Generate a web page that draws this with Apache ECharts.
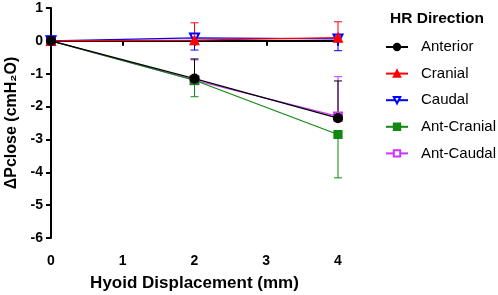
<!DOCTYPE html>
<html>
<head>
<meta charset="utf-8">
<script src="https://cdn.jsdelivr.net/npm/echarts@6/dist/echarts.min.js"></script>
<style>
  html, body { margin: 0; padding: 0; background: #fff; }
  #chart { width: 498px; height: 295px; }
</style>
</head>
<body>
<div id="chart"></div>
<script>
// data
const displacement = [0, 2, 4]
const anteriorMean = [0, -1.15, -2.35]
const anteriorSd = [0, 0.6, 1.13]
const cranialMean = [0, 0.02, 0.1]
const cranialSd = [0, 0.53, 0.48]
const caudalMean = [0, 0.09, 0.06]
const caudalSd = [0, 0.37, 0.36]
const antCranialMean = [0, -1.2, -2.85]
const antCranialSd = [0, 0.5, 1.32]
const antCaudalMean = [0, -1.2, -2.3]
const antCaudalSd = [0, 0.62, 1.21]
const yTicks = [-6, -5, -4, -3, -2, -1, 0, 1]
const xTicks = [0, 1, 2, 3, 4]

// dir: which side the error bar is drawn on (1 = up, -1 = down)
const groups = [
  { name: 'Anterior', mean: anteriorMean, sd: anteriorSd, dir: 1, color: '#000000', symbol: 'circle', size: 9 },
  { name: 'Cranial', mean: cranialMean, sd: cranialSd, dir: 1, color: '#ff0000', symbol: 'triangle', size: 9 },
  { name: 'Caudal', mean: caudalMean, sd: caudalSd, dir: -1, color: '#0000ff', symbol: 'emptyTriangle', size: 9, rotate: 180 },
  { name: 'Ant-Cranial', mean: antCranialMean, sd: antCranialSd, dir: -1, color: '#118811', symbol: 'rect', size: 8 },
  { name: 'Ant-Caudal', mean: antCaudalMean, sd: antCaudalSd, dir: 1, color: '#cc33ff', symbol: 'emptyRect', size: 8 },
]

const font = 'Arial, "Liberation Sans", sans-serif'

// one-sided error bar with cap
const errorBarRender = (color) => (params, api) => {
  const from = api.coord([api.value(0), api.value(1)])
  const to = api.coord([api.value(0), api.value(2)])
  const w = 4
  const style = { stroke: color, lineWidth: 1 }
  return {
    type: 'group',
    children: [
      { type: 'line', shape: { x1: from[0], y1: from[1], x2: to[0], y2: to[1] }, style },
      { type: 'line', shape: { x1: to[0] - w, y1: to[1], x2: to[0] + w, y2: to[1] }, style },
    ],
  }
}

const series = []
groups.forEach((g, idx) => {
  series.push({
    name: g.name + ' SD',
    type: 'custom',
    renderItem: errorBarRender(g.color),
    data: displacement.slice(1).map((x, i) => [x, g.mean[i + 1], g.mean[i + 1] + g.dir * g.sd[i + 1]]),
    z: 10 - idx,
    clip: false,
    silent: true,
  })
})
groups.forEach((g, idx) => {
  series.push({
    name: g.name,
    type: 'line',
    data: displacement.map((x, i) => [x, g.mean[i]]),
    symbol: g.symbol,
    symbolSize: g.size,
    symbolRotate: g.rotate || 0,
    showAllSymbol: true,
    clip: false,
    z: 20 - idx,
    color: g.color,
    lineStyle: { color: g.color, width: 1.2 },
    itemStyle: { color: g.color, borderColor: g.color, borderWidth: 1.2 },
    emphasis: { disabled: true },
    ...(idx === 0 && {
      markLine: {
        silent: true,
        symbol: 'none',
        label: { show: false },
        lineStyle: { color: '#000', width: 2, type: [2, 4] },
        data: [[{ coord: [0, 0] }, { coord: [4, 0] }]],
        z: 1,
      },
    }),
  })
})

const chart = echarts.init(document.getElementById('chart'))
chart.setOption({
  animation: false,
  backgroundColor: '#fff',
  title: {
    text: 'HR Direction',
    left: 390,
    top: 11,
    padding: 0,
    textStyle: { fontFamily: font, fontSize: 15.5, fontWeight: 'bold', color: '#000' },
  },
  legend: {
    data: groups.map((g) => g.name),
    orient: 'vertical',
    left: 385,
    top: 39,
    padding: 0,
    itemWidth: 22,
    itemHeight: 8,
    itemGap: 10.6,
    textStyle: { fontFamily: font, fontSize: 15, lineHeight: 16, color: '#000', padding: [0, 0, 0, 8], width: 90, overflow: 'none' },
  },
  grid: { left: 51, right: 160, top: 8, bottom: 57, containLabel: false, outerBoundsMode: 'none' },
  xAxis: {
    type: 'value',
    min: 0,
    max: 4,
    interval: 1,
    name: 'Hyoid Displacement (mm)',
    nameLocation: 'middle',
    nameGap: 37,
    nameTextStyle: { fontFamily: font, fontSize: 17, fontWeight: 'bold', color: '#000' },
    axisLine: { lineStyle: { color: '#000', width: 2 } },
    axisTick: { show: true, inside: false, length: 5, lineStyle: { color: '#000', width: 2 } },
    axisLabel: {
      margin: 16,
      fontFamily: font,
      fontSize: 14,
      fontWeight: 'bold',
      color: '#000',
      formatter: (v) => (xTicks.includes(v) ? String(v) : ''),
    },
    splitLine: { show: false },
  },
  yAxis: {
    type: 'value',
    min: -6,
    max: 1,
    interval: 1,
    name: 'ΔPclose (cmH₂O)',
    nameLocation: 'middle',
    nameGap: 27,
    nameRotate: 90,
    nameTextStyle: { fontFamily: font, fontSize: 16, fontWeight: 'bold', color: '#000' },
    axisLine: { show: true, onZero: false, lineStyle: { color: '#000', width: 2 } },
    axisTick: { show: true, inside: false, length: 5, lineStyle: { color: '#000', width: 2 } },
    axisLabel: {
      margin: 8,
      fontFamily: font,
      fontSize: 14,
      fontWeight: 'bold',
      color: '#000',
      formatter: (v) => (yTicks.includes(v) ? String(v) : ''),
    },
    splitLine: { show: false },
  },
  series,
})
</script>
</body>
</html>
